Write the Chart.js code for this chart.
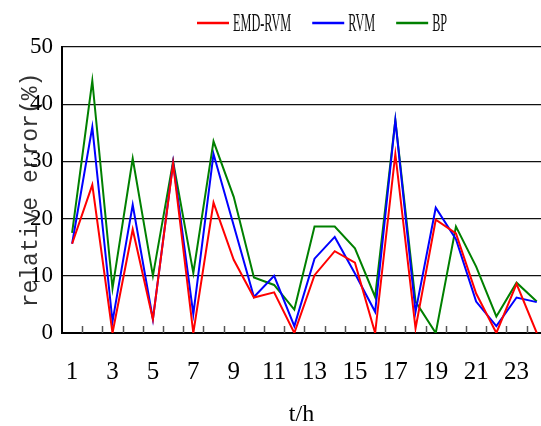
<!DOCTYPE html>
<html>
<head>
<meta charset="utf-8">
<script src="https://cdn.jsdelivr.net/npm/chart.js@4"></script>
<style>
  html, body { margin: 0; padding: 0; background: #fff; }
  #wrap { width: 541px; height: 426px; }
</style>
</head>
<body>
<div id="wrap"><canvas id="errChart" width="541" height="426"></canvas></div>
<script>
// hourly relative error (%) for each model
var hours = [1,2,3,4,5,6,7,8,9,10,11,12,13,14,15,16,17,18,19,20,21,22,23,24];
var emdRvm = [15.6, 25.9, 0, 18.1, 2.4, 29.6, 0, 22.8, 12.8, 6.2, 7.1, 0, 10.1, 14.3, 12.3, 0, 31.3, 0.8, 19.8, 17.4, 6.9, 0, 8.6, 0];
var rvm = [15.6, 36.0, 2.0, 22.4, 2.4, 29.8, 3.3, 31.3, 18.8, 6.3, 10.0, 1.2, 13.0, 16.8, 10.4, 3.7, 37.2, 3.7, 21.9, 16.4, 5.5, 1.2, 6.2, 5.4];
var bp = [17.5, 44.1, 7.8, 30.5, 10.0, 30.0, 10.5, 33.5, 23.8, 9.7, 8.4, 4.1, 18.6, 18.6, 14.8, 6.3, 37.2, 5.5, 0, 18.6, 11.6, 2.9, 8.8, 5.5];
var xTicks = [1,3,5,7,9,11,13,15,17,19,21,23];
var yTicks = [0,10,20,30,40,50];

function pts(vals) {
  return hours.map(function (h, i) { return { x: h, y: vals[i] }; });
}

var serif = "'Liberation Serif', 'DejaVu Serif', serif";

// little inward tick marks between the hours
var minorTicks = {
  id: "minorTicks",
  beforeDatasetsDraw: function (chart) {
    var ctx = chart.ctx, xs = chart.scales.x, bottom = chart.chartArea.bottom;
    ctx.save();
    ctx.strokeStyle = "#555";
    ctx.lineWidth = 1.5;
    for (var i = 0; i < hours.length - 1; i++) {
      var px = Math.round(xs.getPixelForValue(hours[i] + 0.5)) + 0.5;
      ctx.beginPath();
      ctx.moveTo(px, bottom);
      ctx.lineTo(px, bottom - 7);
      ctx.stroke();
    }
    ctx.restore();
  }
};

// legend with the narrow lettering of the original
var narrowLegend = {
  id: "narrowLegend",
  afterDraw: function (chart) {
    var ctx = chart.ctx, x = 197, y = 23, squeeze = 0.49;
    ctx.save();
    ctx.font = "25px " + serif;
    ctx.textBaseline = "middle";
    chart.data.datasets.forEach(function (ds) {
      ctx.strokeStyle = ds.borderColor;
      ctx.lineWidth = 2.5;
      ctx.beginPath();
      ctx.moveTo(x, y);
      ctx.lineTo(x + 32, y);
      ctx.stroke();
      x += 36;
      ctx.save();
      ctx.translate(x, y + 1);
      ctx.scale(squeeze, 1);
      ctx.fillStyle = "#111";
      ctx.fillText(ds.label, 0, 0);
      ctx.restore();
      x += ctx.measureText(ds.label).width * squeeze + 21;
    });
    ctx.restore();
  }
};

var ctx = document.getElementById("errChart").getContext("2d");
var errChart = new Chart(ctx, {
  type: "line",
  data: {
    datasets: [{
      label: "EMD-RVM",
      data: pts(emdRvm),
      borderColor: "#ff0000",
      borderWidth: 2,
      pointRadius: 0,
      tension: 0
    }, {
      label: "RVM",
      data: pts(rvm),
      borderColor: "#0000ff",
      borderWidth: 2,
      pointRadius: 0,
      tension: 0
    }, {
      label: "BP",
      data: pts(bp),
      borderColor: "#008000",
      borderWidth: 2,
      pointRadius: 0,
      tension: 0
    }]
  },
  options: {
    responsive: false,
    animation: false,
    layout: { padding: { top: 47, left: 0, right: 0, bottom: 0 } },
    plugins: {
      tooltip: { enabled: false },
      legend: { display: false }
    },
    scales: {
      x: {
        type: "linear",
        min: 0.5,
        max: 24.21,
        afterBuildTicks: function (scale) {
          scale.ticks = xTicks.map(function (v) { return { value: v }; });
        },
        afterFit: function (scale) {
          scale.height = 93;
          scale.paddingLeft = 0;
          scale.paddingRight = 0;
        },
        grid: { display: false, drawTicks: false },
        border: { color: "#000", width: 2 },
        ticks: {
          autoSkip: false,
          maxRotation: 0,
          padding: 24,
          color: "#000",
          font: { family: serif, size: 25 }
        },
        title: {
          display: true,
          text: "t/h",
          color: "#000",
          padding: 0,
          font: { family: serif, size: 24, lineHeight: 0.9 }
        }
      },
      y: {
        min: 0,
        max: 50,
        afterBuildTicks: function (scale) {
          scale.ticks = yTicks.map(function (v) { return { value: v }; });
        },
        afterFit: function (scale) {
          scale.width = 62;
          scale.paddingTop = 0;
          scale.paddingBottom = 0;
        },
        grid: { color: "#111", lineWidth: 1.2, drawTicks: false },
        border: { color: "#000", width: 2 },
        ticks: {
          padding: 9,
          color: "#000",
          font: { family: serif, size: 23 }
        },
        title: {
          display: true,
          text: "relative error(%)",
          color: "#333",
          padding: { top: 17, bottom: 0 },
          font: { family: "'Liberation Mono', monospace", size: 23 }
        }
      }
    }
  },
  plugins: [minorTicks, narrowLegend]
});
</script>
</body>
</html>
